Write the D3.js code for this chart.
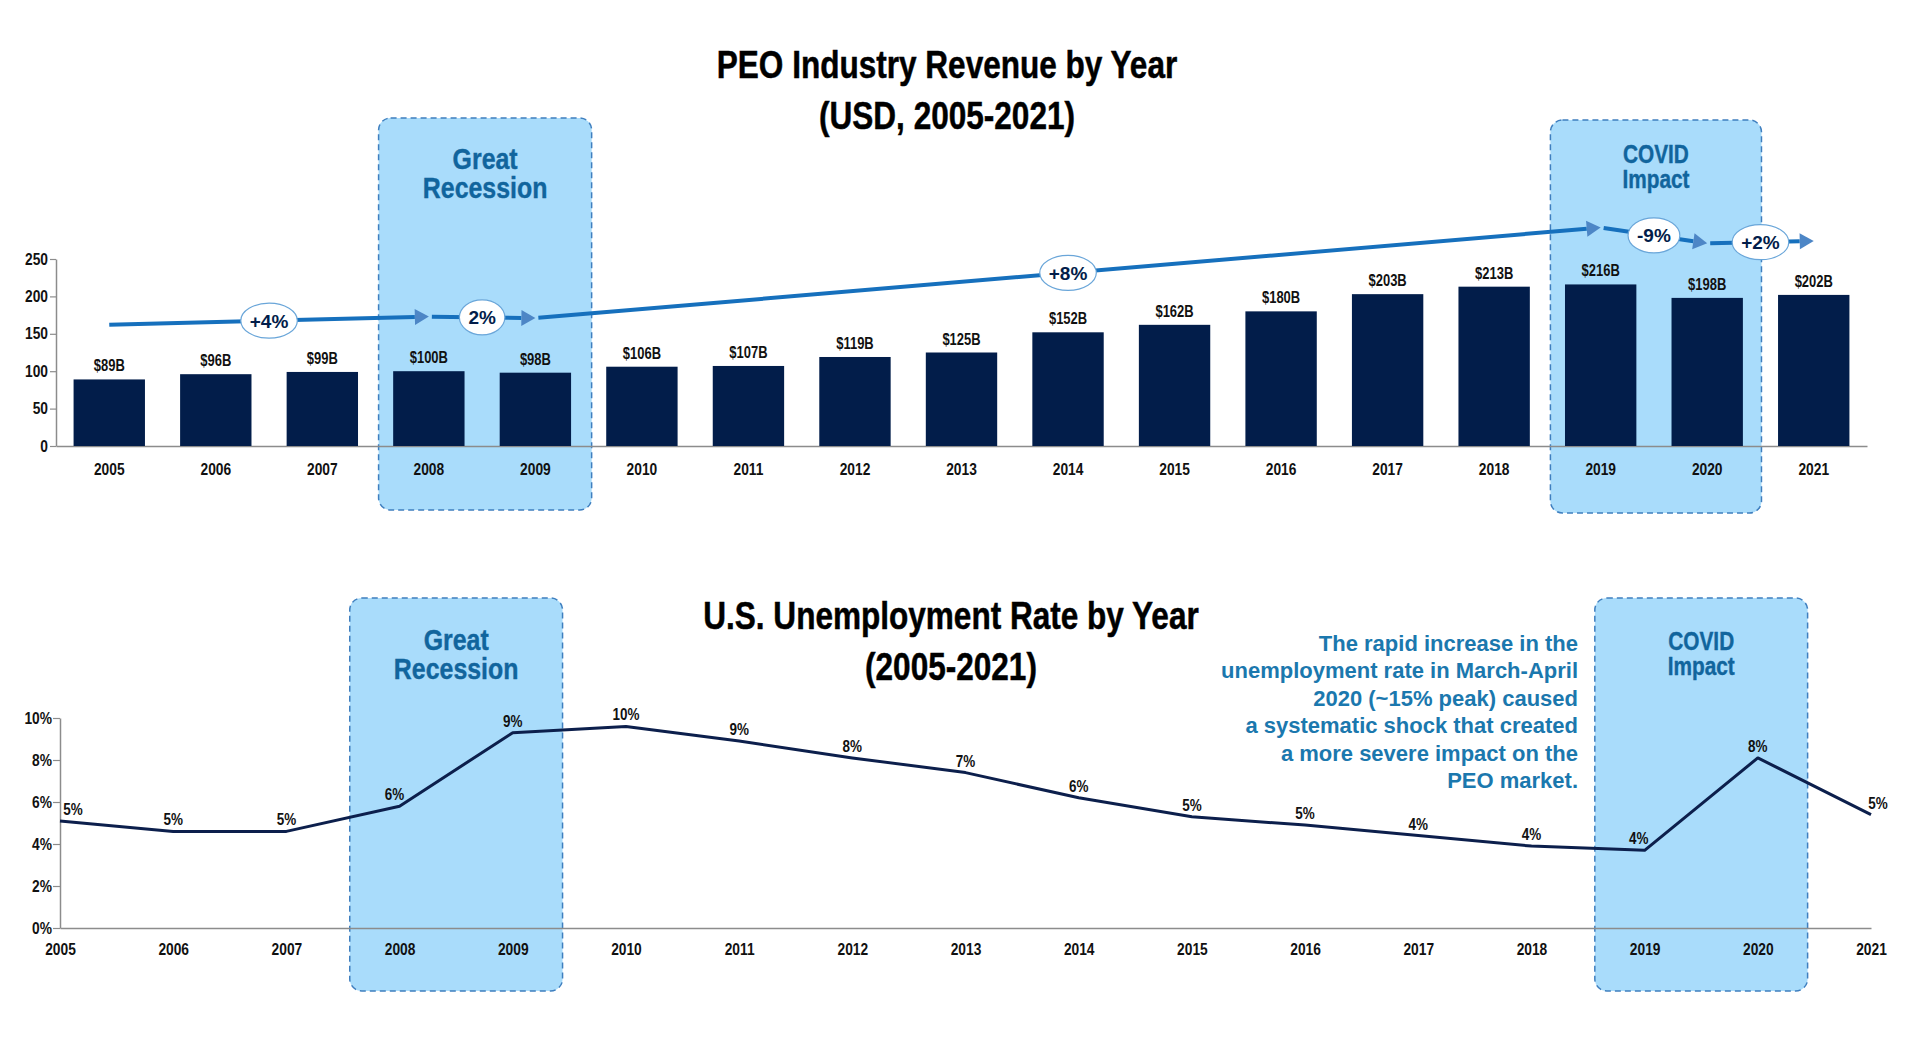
<!DOCTYPE html>
<html>
<head>
<meta charset="utf-8">
<script src="https://cdn.jsdelivr.net/npm/d3@7"></script>
<style>
  body { margin: 0; background: #fff; }
  svg text { font-family: "Liberation Sans", Arial, sans-serif; }
</style>
</head>
<body>
<div id="chart"></div>
<script>
// Data
var years = ["2005", "2006", "2007", "2008", "2009", "2010", "2011", "2012", "2013",
             "2014", "2015", "2016", "2017", "2018", "2019", "2020", "2021"];
var revenue = [89, 96, 99, 100, 98, 106, 107, 119, 125, 152, 162, 180, 203, 213, 216, 198, 202];
var revenueTicks = [0, 50, 100, 150, 200, 250];

var unemployment = [5.1, 4.6, 4.6, 5.8, 9.3, 9.6, 8.9, 8.1, 7.4, 6.2, 5.3, 4.9, 4.4, 3.9, 3.7, 8.1, 5.4];
var unemploymentLabels = ["5%", "5%", "5%", "6%", "9%", "10%", "9%", "8%", "7%", "6%",
                          "5%", "5%", "4%", "4%", "4%", "8%", "5%"];
var unemploymentTicks = [0, 2, 4, 6, 8, 10];

// growth arrows over the bars (level in revenue units)
var trendYears = ["2005", "2008", "2009", "2019", "2020", "2021"];
var trendLevels = [162, 173, 171, 292, 271, 274];
var trendLabels = ["+4%", "2%", "+8%", "-9%", "+2%"];

var recessionYears = ["2008", "2009"];
var covidYears = ["2019", "2020"];

var noteLines = ["The rapid increase in the",
                 "unemployment rate in March-April",
                 "2020 (~15% peak) caused",
                 "a systematic shock that created",
                 "a more severe impact on the",
                 "PEO market."];

var navy = "#021d4a";
var boxFill = "#a9dcfb";
var boxStroke = "#3f7fbf";
var boxText = "#11659d";

var svg = d3.select("#chart")
    .append("svg")
    .attr("width", 1920)
    .attr("height", 1044);

// squeeze text horizontally so it looks like a condensed face
function condense(sel, f) {
    sel.each(function() {
        var w = this.getComputedTextLength();
        d3.select(this).attr("textLength", w * f).attr("lengthAdjust", "spacingAndGlyphs");
    });
}

// shaded period boxes
function drawBox(x0, x1, y0, y1, lines, size, baselines, f) {
    var g = svg.append("g");
    g.append("rect")
        .attr("x", x0).attr("y", y0)
        .attr("width", x1 - x0).attr("height", y1 - y0)
        .attr("rx", 12).attr("ry", 12)
        .attr("fill", boxFill)
        .attr("stroke", boxStroke)
        .attr("stroke-width", 1.5)
        .attr("stroke-dasharray", "6,4");
    lines.forEach(function(t, i) {
        g.append("text")
            .attr("x", (x0 + x1) / 2)
            .attr("y", baselines[i])
            .attr("text-anchor", "middle")
            .attr("font-size", size)
            .attr("font-weight", "bold")
            .attr("fill", boxText)
            .attr("stroke", boxText)
            .attr("stroke-width", 0.4)
            .text(t)
            .call(condense, f);
    });
}

function title(text, cx, by) {
    svg.append("text")
        .attr("x", cx).attr("y", by)
        .attr("text-anchor", "middle")
        .attr("font-size", 38).attr("font-weight", "bold")
        .attr("fill", "#000")
        .attr("stroke", "#000")
        .attr("stroke-width", 0.5)
        .text(text)
        .call(condense, 0.83);
}

// ---------- Top chart: PEO revenue ----------
var x = d3.scaleBand()
    .domain(years)
    .range([56, 1867])
    .paddingInner(0.33)
    .paddingOuter(0.165);
var y = d3.scaleLinear()
    .domain([0, 250])
    .range([446, 259]);

var step = x.step();
function stepStart(yr) { return x(yr) - (step - x.bandwidth()) / 2; }

drawBox(stepStart(recessionYears[0]) + 3, stepStart(recessionYears[1]) + step + 3, 118, 510,
        ["Great", "Recession"], 30, [169, 198], 0.83);
drawBox(stepStart(covidYears[0]) + 3, stepStart(covidYears[1]) + step + 1, 120, 513,
        ["COVID", "Impact"], 26, [163, 188], 0.8);

title("PEO Industry Revenue by Year", 947, 78);
title("(USD, 2005-2021)", 947, 129);

var yAxisTop = svg.append("g")
    .attr("transform", "translate(56,0)")
    .call(d3.axisLeft(y).tickValues(revenueTicks).tickSize(6).tickSizeOuter(0).tickPadding(2));

var xAxisTop = svg.append("g")
    .attr("transform", "translate(0,446)")
    .call(d3.axisBottom(x).tickSize(0).tickPadding(18));

svg.selectAll(".bar")
    .data(revenue)
    .enter()
    .append("rect")
    .attr("class", "bar")
    .attr("x", function(d, i) { return x(years[i]); })
    .attr("y", function(d) { return y(d); })
    .attr("width", x.bandwidth())
    .attr("height", function(d) { return y(0) - y(d); })
    .attr("fill", navy);

svg.selectAll(".barLabel")
    .data(revenue)
    .enter()
    .append("text")
    .attr("class", "barLabel")
    .attr("x", function(d, i) { return x(years[i]) + x.bandwidth() / 2; })
    .attr("y", function(d) { return y(d) - 8; })
    .attr("text-anchor", "middle")
    .attr("font-size", 16)
    .attr("font-weight", "bold")
    .attr("fill", "#111")
    .text(function(d) { return "$" + d + "B"; })
    .call(condense, 0.81);

// growth arrows
var trendG = svg.append("g");
for (var i = 0; i < trendLabels.length; i++) {
    var ax = x(trendYears[i]) + x.bandwidth() / 2, ay = y(trendLevels[i]);
    var bx = x(trendYears[i + 1]) + x.bandwidth() / 2, by = y(trendLevels[i + 1]);
    var len = Math.hypot(bx - ax, by - ay);
    var ux = (bx - ax) / len, uy = (by - ay) / len;
    var gap = i > 0 ? 3 : 0;
    var baseX = bx - 14 * ux, baseY = by - 14 * uy;
    trendG.append("line")
        .attr("x1", ax + gap * ux).attr("y1", ay + gap * uy)
        .attr("x2", baseX).attr("y2", baseY)
        .attr("stroke", "#1670bd")
        .attr("stroke-width", 4);
    trendG.append("polygon")
        .attr("points", [[bx, by], [baseX - 8 * uy, baseY + 8 * ux], [baseX + 8 * uy, baseY - 8 * ux]].join(" "))
        .attr("fill", "#4d86c6");
    var mx = (ax + bx) / 2, my = (ay + by) / 2;
    var ell = trendG.append("ellipse")
        .attr("cx", mx).attr("cy", my)
        .attr("ry", 17.5)
        .attr("fill", "#fff")
        .attr("stroke", "#6aa6d9")
        .attr("stroke-width", 1.2);
    var lbl = trendG.append("text")
        .attr("x", mx).attr("y", my + 7)
        .attr("text-anchor", "middle")
        .attr("font-size", 19)
        .attr("font-weight", "bold")
        .attr("fill", navy)
        .text(trendLabels[i]);
    ell.attr("rx", lbl.node().getComputedTextLength() / 2 + 9);
}

// ---------- Bottom chart: unemployment ----------
var xp = d3.scalePoint()
    .domain(years)
    .range([60, 1871]);
var y2 = d3.scaleLinear()
    .domain([0, 10])
    .range([928, 718]);
var pstep = xp.step();

drawBox(xp(recessionYears[0]) - 0.44 * pstep, xp(recessionYears[1]) + 0.44 * pstep, 598, 991,
        ["Great", "Recession"], 30, [650, 679], 0.83);
drawBox(xp(covidYears[0]) - 0.44 * pstep, xp(covidYears[1]) + 0.44 * pstep, 598, 991,
        ["COVID", "Impact"], 26, [650, 675], 0.8);

title("U.S. Unemployment Rate by Year", 951, 629);
title("(2005-2021)", 951, 680);

var note = svg.append("g");
noteLines.forEach(function(t, i) {
    note.append("text")
        .attr("x", 1578)
        .attr("y", 651 + i * 27.4)
        .attr("text-anchor", "end")
        .attr("font-size", 22)
        .attr("font-weight", "bold")
        .attr("fill", "#1b78ae")
        .text(t);
});

var yAxisBot = svg.append("g")
    .attr("transform", "translate(60,0)")
    .call(d3.axisLeft(y2).tickValues(unemploymentTicks).tickSize(7).tickSizeOuter(0).tickPadding(1)
        .tickFormat(function(d) { return d + "%"; }));

var xAxisBot = svg.append("g")
    .attr("transform", "translate(0,928)")
    .call(d3.axisBottom(xp).tickSize(0).tickPadding(16));

var line = d3.line()
    .x(function(d, i) { return xp(years[i]); })
    .y(function(d) { return y2(d); });

svg.append("path")
    .datum(unemployment)
    .attr("d", line)
    .attr("fill", "none")
    .attr("stroke", "#0c1f4c")
    .attr("stroke-width", 3)
    .attr("stroke-linejoin", "round");

var labelShift = { "2005": 13, "2008": -5, "2019": -6, "2021": 7 };
svg.selectAll(".uLabel")
    .data(unemployment)
    .enter()
    .append("text")
    .attr("class", "uLabel")
    .attr("x", function(d, i) { return xp(years[i]) + (labelShift[years[i]] || 0); })
    .attr("y", function(d) { return y2(d) - 6; })
    .attr("text-anchor", "middle")
    .attr("font-size", 16)
    .attr("font-weight", "bold")
    .attr("fill", "#111")
    .text(function(d, i) { return unemploymentLabels[i]; })
    .call(condense, 0.84);

// axis styling
[yAxisTop, xAxisTop, yAxisBot, xAxisBot].forEach(function(a) {
    a.select(".domain").attr("stroke", "#8c8c8c").attr("stroke-width", 1.5);
    a.selectAll(".tick line").attr("stroke", "#8c8c8c").attr("stroke-width", 1.2);
    a.selectAll(".tick text")
        .attr("font-family", "'Liberation Sans', Arial, sans-serif")
        .attr("font-size", 16)
        .attr("font-weight", "bold")
        .attr("fill", "#111")
        .call(condense, 0.86);
});
</script>
</body>
</html>
